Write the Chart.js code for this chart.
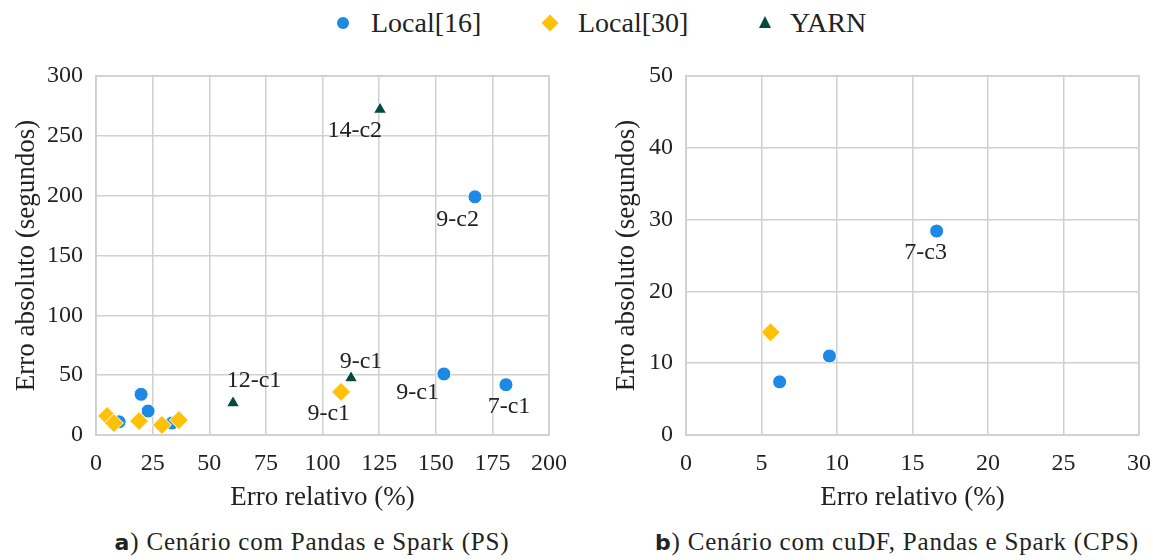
<!DOCTYPE html>
<html>
<head>
<meta charset="utf-8">
<script src="https://cdn.jsdelivr.net/npm/chart.js@4"></script>
<style>
  body { margin: 0; background: #fff; width: 1153px; height: 560px; position: relative; overflow: hidden;
         font-family: "Liberation Serif", "Times New Roman", Tinos, "DejaVu Serif", "Noto Serif", FreeSerif, serif; color: #222; }
  canvas { position: absolute; }
  #legend span { position: absolute; top: 6px; font-size: 28px; line-height: 34px; }
  .mk { position: absolute; }
  .cap { position: absolute; top: 528px; width: 600px; margin-left: -300px; text-align: center;
         font-size: 25px; letter-spacing: 0.8px; white-space: nowrap; }
  .cap b { font-family: "DejaVu Sans", sans-serif; font-size: 22px; }
</style>
</head>
<body>
<div id="legend">
  <div class="mk" style="left:337px;top:17px;width:12px;height:12px;border-radius:50%;background:#1E88E5"></div>
  <span style="left:371px">Local[16]</span>
  <div class="mk" style="left:544px;top:17px;width:12px;height:12px;transform:rotate(45deg);background:#FFC107"></div>
  <span style="left:578px">Local[30]</span>
  <div class="mk" style="left:759px;top:16px;width:0;height:0;border-left:6px solid transparent;border-right:6px solid transparent;border-bottom:12px solid #004D40"></div>
  <span style="left:790px">YARN</span>
</div>
<canvas id="chartPS" width="575" height="470" style="left:0;top:56px"></canvas>
<canvas id="chartCPS" width="553" height="470" style="left:600px;top:56px"></canvas>
<div class="cap" style="left:312px"><b>a</b>) Cenário com Pandas e Spark (PS)</div>
<div class="cap" style="left:897px"><b>b</b>) Cenário com cuDF, Pandas e Spark (CPS)</div>

<script>
// Cenário PS
const psLocal16X = [167.3, 153.6, 181.0, 19.9, 23.0, 10.2, 33.6];
const psLocal16Y = [199, 51, 42, 34, 20, 11, 10];
const psLocal16Tags = ['9-c2', '9-c1', '7-c1', '', '', '', ''];
const psLocal30X = [4.9, 7.9, 19.0, 29.1, 36.6, 108.2];
const psLocal30Y = [15.9, 10, 11.7, 8.4, 12.5, 36];
const psLocal30Tags = ['', '', '', '', '', '9-c1'];
const psYarnX = [125.4, 112.6, 60.5];
const psYarnY = [272, 47.6, 26.7];
const psYarnTags = ['14-c2', '9-c1', '12-c1'];
const psXTicks = [0, 25, 50, 75, 100, 125, 150, 175, 200];
const psYTicks = [0, 50, 100, 150, 200, 250, 300];

// Cenário CPS
const cpsLocal16X = [9.5, 6.2, 16.6];
const cpsLocal16Y = [11.0, 7.4, 28.4];
const cpsLocal16Tags = ['', '', '7-c3'];
const cpsLocal30X = [5.6];
const cpsLocal30Y = [14.3];
const cpsXTicks = [0, 5, 10, 15, 20, 25, 30];
const cpsYTicks = [0, 10, 20, 30, 40, 50];

const BLUE = '#1E88E5', YELLOW = '#FFC107', GREEN = '#004D40';
const GRID = '#d0d0d0';
const FAMILY = "'Liberation Serif', 'Times New Roman', Tinos, 'DejaVu Serif', 'Noto Serif', FreeSerif, serif";
const FONT = { family: FAMILY, size: 24 };
const TITLE_FONT = { family: FAMILY, size: 27 };

// tag offsets (dx, dy, align) relative to the point, in px
const tagPlace = {
  '9-c2': [4, 23, 'right'],
  '14-c2': [2, 21, 'right'],
  '7-c1': [3, 22, 'center'],
  '7-c3': [-11, 22, 'center'],
  '12-c1': [21, -22, 'center']
};
const tagPlaceBySet = {
  'Local[16]': { '9-c1': [-5, 19, 'right'] },
  'Local[30]': { '9-c1': [9, 22, 'right'] },
  'YARN': { '9-c1': [10, -16, 'center'] }
};

function pts(xs, ys) { return xs.map((x, i) => ({ x: x, y: ys[i] })); }

const tagPlugin = {
  id: 'tags',
  afterDatasetsDraw(chart) {
    const ctx = chart.ctx;
    ctx.save();
    ctx.font = FONT.size + 'px ' + FAMILY;
    ctx.fillStyle = '#222';
    ctx.textBaseline = 'middle';
    chart.data.datasets.forEach((ds, di) => {
      const meta = chart.getDatasetMeta(di);
      (ds.tags || []).forEach((t, i) => {
        if (!t) return;
        const p = meta.data[i];
        const place = (tagPlaceBySet[ds.label] || {})[t] || tagPlace[t];
        ctx.textAlign = place[2];
        ctx.fillText(t, p.x + place[0], p.y + place[1]);
      });
    });
    ctx.restore();
  }
};

const framePlugin = {
  id: 'frame',
  afterDraw(chart) {
    const a = chart.chartArea, ctx = chart.ctx;
    ctx.save();
    ctx.strokeStyle = GRID;
    ctx.lineWidth = 1.5;
    ctx.strokeRect(a.left, a.top, a.right - a.left, a.bottom - a.top);
    ctx.restore();
  }
};

// keep the plot area where layout.padding puts it
function noScalePadding(s) {
  s.paddingTop = 0; s.paddingBottom = 0; s.paddingLeft = 0; s.paddingRight = 0;
}

function makeChart(id, datasets, xMax, yMax, xTicks, yTicks, yWidth, padRight) {
  return new Chart(document.getElementById(id), {
    type: 'scatter',
    data: { datasets: datasets },
    options: {
      responsive: false,
      animation: false,
      layout: { padding: { top: 20, right: padRight, bottom: 0, left: 0 } },
      plugins: { legend: { display: false }, tooltip: { enabled: false } },
      scales: {
        x: {
          type: 'linear', min: 0, max: xMax,
          afterBuildTicks: s => { s.ticks = xTicks.map(v => ({ value: v })); },
          afterFit: s => { s.height = 91; noScalePadding(s); },
          grid: { color: GRID, lineWidth: 1.5, drawTicks: false },
          border: { color: GRID, width: 1.5 },
          ticks: { color: '#222', font: FONT, padding: 14, maxRotation: 0 },
          title: { display: true, text: 'Erro relativo (%)', color: '#222', font: TITLE_FONT, padding: { top: 0, bottom: 12 } }
        },
        y: {
          type: 'linear', min: 0, max: yMax,
          afterBuildTicks: s => { s.ticks = yTicks.map(v => ({ value: v })); },
          afterFit: s => { s.width = yWidth; noScalePadding(s); },
          grid: { color: GRID, lineWidth: 1.5, drawTicks: false },
          border: { color: GRID, width: 1.5 },
          ticks: { color: '#222', font: FONT, padding: 13 },
          title: { display: true, text: 'Erro absoluto (segundos)', color: '#222', font: TITLE_FONT, padding: { top: 11, bottom: 0 } }
        }
      }
    },
    plugins: [tagPlugin, framePlugin]
  });
}

function set(label, xs, ys, tags, color, shape, radius, order) {
  return {
    label: label, data: pts(xs, ys), tags: tags, order: order,
    pointStyle: shape, pointRadius: radius, pointHoverRadius: radius,
    backgroundColor: color, borderColor: '#ffffff', borderWidth: 1
  };
}

makeChart('chartPS', [
  set('Local[16]', psLocal16X, psLocal16Y, psLocal16Tags, BLUE, 'circle', 7, 3),
  set('Local[30]', psLocal30X, psLocal30Y, psLocal30Tags, YELLOW, 'rectRot', 9.5, 2),
  set('YARN', psYarnX, psYarnY, psYarnTags, GREEN, 'triangle', 7.5, 1)
], 200, 300, psXTicks, psYTicks, 96, 26);

makeChart('chartCPS', [
  set('Local[16]', cpsLocal16X, cpsLocal16Y, cpsLocal16Tags, BLUE, 'circle', 7, 3),
  set('Local[30]', cpsLocal30X, cpsLocal30Y, [], YELLOW, 'rectRot', 9.5, 2)
], 30, 50, cpsXTicks, cpsYTicks, 86, 14);
</script>
</body>
</html>
